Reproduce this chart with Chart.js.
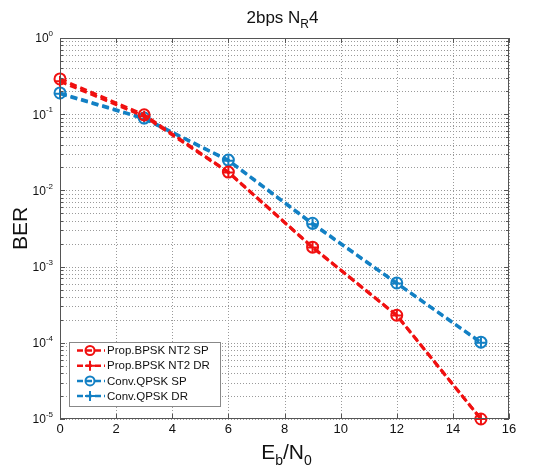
<!DOCTYPE html>
<html><head><meta charset="utf-8">
<script src="https://cdn.jsdelivr.net/npm/chart.js@4.4.0/dist/chart.umd.min.js"></script>
<style>html,body{margin:0;padding:0;background:#fff}#wrap{width:539px;height:472px}</style>
</head><body><div id="wrap"><canvas id="c" width="539" height="472"></canvas></div>
<script>
const ebn0 = [0, 3, 6, 9, 12, 15];
const propSP = [0.29, 0.098, 0.0174, 0.0018, 0.00023, 0.00001];
const propDR = [0.27, 0.094, 0.0172, 0.00178, 0.000228, 0.00001];
const convSP = [0.19, 0.089, 0.025, 0.0037, 0.00061, 0.000102];
const convDR = [0.185, 0.087, 0.0245, 0.0036, 0.0006, 0.0001];
const xTicks = [0, 2, 4, 6, 8, 10, 12, 14, 16];
const yExps = [0, -1, -2, -3, -4, -5];
const labels = ['Prop.BPSK NT2 SP', 'Prop.BPSK NT2 DR', 'Conv.QPSK SP', 'Conv.QPSK DR'];

const RED = '#f01010', BLUE = '#1380c4';
const FONT = '"Liberation Sans", Arial, sans-serif';
function mk(d, i, color, style) {
  return {
    label: labels[i], data: ebn0.map((x, k) => ({x, y: d[k]})),
    borderColor: color, backgroundColor: 'rgba(0,0,0,0)', borderWidth: 3,
    borderDash: [7, 4], pointStyle: style, pointRadius: 5.5, pointBorderWidth: 2,
    pointBorderColor: color, pointBackgroundColor: 'rgba(0,0,0,0)', tension: 0, clip: false
  };
}
const datasets = [mk(propSP, 0, RED, 'circle'), mk(propDR, 1, RED, 'cross'),
                  mk(convSP, 2, BLUE, 'circle'), mk(convDR, 3, BLUE, 'cross')];

const grid = {
  id: 'gridd',
  beforeDatasetsDraw(chart) {
    const ctx = chart.ctx, xs = chart.scales.x, ys = chart.scales.y, a = chart.chartArea;
    ctx.save();
    ctx.strokeStyle = '#9a9a9a'; ctx.lineWidth = 1; ctx.setLineDash([1, 2]);
    ctx.beginPath();
    xTicks.forEach(v => {
      const p = Math.round(xs.getPixelForValue(v)) + 0.5;
      ctx.moveTo(p, a.top); ctx.lineTo(p, a.bottom);
    });
    for (let e = -5; e <= 0; e++) {
      for (let m = 1; m <= 9; m++) {
        if (e === 0 && m > 1) break;
        const p = Math.round(ys.getPixelForValue(m * Math.pow(10, e))) + 0.5;
        ctx.moveTo(a.left, p); ctx.lineTo(a.right, p);
      }
    }
    ctx.stroke();
    ctx.restore();
  }
};

const deco = {
  id: 'deco',
  afterDraw(chart) {
    const ctx = chart.ctx, xs = chart.scales.x, ys = chart.scales.y, a = chart.chartArea;
    ctx.save();
    ctx.strokeStyle = '#555'; ctx.lineWidth = 1; ctx.setLineDash([]);
    ctx.strokeRect(a.left + 0.5, a.top + 0.5, a.right - a.left - 1, a.bottom - a.top - 1);
    ctx.beginPath();
    xTicks.forEach(v => {
      const p = Math.round(xs.getPixelForValue(v)) + 0.5;
      ctx.moveTo(p, a.bottom); ctx.lineTo(p, a.bottom - 5);
      ctx.moveTo(p, a.top); ctx.lineTo(p, a.top + 5);
    });
    for (let e = -5; e <= 0; e++) {
      for (let m = 1; m <= 9; m++) {
        if (e === 0 && m > 1) break;
        const p = Math.round(ys.getPixelForValue(m * Math.pow(10, e))) + 0.5;
        const L = m === 1 ? 5 : 3;
        ctx.moveTo(a.left, p); ctx.lineTo(a.left + L, p);
        ctx.moveTo(a.right, p); ctx.lineTo(a.right - L, p);
      }
    }
    ctx.stroke();
    ctx.fillStyle = '#111'; ctx.font = '13px ' + FONT; ctx.textAlign = 'center'; ctx.textBaseline = 'top';
    xTicks.forEach(v => ctx.fillText(String(v), xs.getPixelForValue(v), a.bottom + 4));
    yExps.forEach(e => {
      const p = ys.getPixelForValue(Math.pow(10, e));
      ctx.textAlign = 'right'; ctx.textBaseline = 'middle';
      const sup = String(e);
      ctx.font = '8px ' + FONT;
      const sw = ctx.measureText(sup).width;
      ctx.fillText(sup, a.left - 7, p - 4);
      ctx.font = '12px ' + FONT;
      ctx.fillText('10', a.left - 7 - sw, p + 1);
    });
    ctx.textBaseline = 'alphabetic'; ctx.textAlign = 'left';
    const t1 = '2bps N', t2 = 'R', t3 = '4';
    ctx.font = '17px ' + FONT; const w1 = ctx.measureText(t1).width;
    ctx.font = '12px ' + FONT; const w2 = ctx.measureText(t2).width;
    ctx.font = '17px ' + FONT; const w3 = ctx.measureText(t3).width;
    let tx = (a.left + a.right) / 2 - (w1 + w2 + w3) / 2 - 2;
    ctx.font = '17px ' + FONT; ctx.fillText(t1, tx, 23); tx += w1;
    ctx.font = '12px ' + FONT; ctx.fillText(t2, tx, 28); tx += w2;
    ctx.font = '17px ' + FONT; ctx.fillText(t3, tx, 23);
    const parts = [['E', 21, 0], ['b', 14, 6], ['/N', 21, 0], ['0', 14, 6]];
    let tw = 0; parts.forEach(p => { ctx.font = p[1] + 'px ' + FONT; tw += ctx.measureText(p[0]).width; });
    tx = (a.left + a.right) / 2 - tw / 2 + 2;
    parts.forEach(p => { ctx.font = p[1] + 'px ' + FONT; ctx.fillText(p[0], tx, 459 + p[2]); tx += ctx.measureText(p[0]).width; });
    ctx.save(); ctx.translate(27, (a.top + a.bottom) / 2); ctx.rotate(-Math.PI / 2);
    ctx.font = '21px ' + FONT; ctx.textAlign = 'center'; ctx.fillText('BER', 0, 0); ctx.restore();
    const lx = 69.5, ly = 342.5, lw = 151, lh = 64;
    ctx.fillStyle = '#fff'; ctx.fillRect(lx, ly, lw, lh);
    ctx.strokeStyle = '#888'; ctx.lineWidth = 1; ctx.strokeRect(lx, ly, lw, lh);
    chart.data.datasets.forEach((ds, i) => {
      const yy = 350.5 + i * 15.2;
      ctx.strokeStyle = ds.borderColor; ctx.lineWidth = 2.5; ctx.setLineDash([6, 3]);
      ctx.beginPath(); ctx.moveTo(77, yy); ctx.lineTo(105, yy); ctx.stroke();
      ctx.setLineDash([]); ctx.lineWidth = 2;
      ctx.beginPath();
      if (ds.pointStyle === 'circle') { ctx.arc(90, yy, 4.5, 0, Math.PI * 2); }
      else { ctx.moveTo(85, yy); ctx.lineTo(95, yy); ctx.moveTo(90, yy - 5); ctx.lineTo(90, yy + 5); }
      ctx.stroke();
      ctx.fillStyle = '#111'; ctx.font = '11.5px ' + FONT; ctx.textAlign = 'left'; ctx.textBaseline = 'middle';
      ctx.fillText(ds.label, 107, yy + 0.5);
    });
    ctx.restore();
  }
};

new Chart(document.getElementById('c'), {
  type: 'line',
  data: { datasets },
  options: {
    responsive: false, animation: false, devicePixelRatio: 1,
    layout: { padding: { left: 0, right: 30, top: 38, bottom: 0 } },
    plugins: { legend: { display: false }, title: { display: false }, tooltip: { enabled: false } },
    scales: {
      x: {
        type: 'linear', min: 0, max: 16,
        ticks: { stepSize: 2, display: false },
        grid: { display: false },
        border: { display: false },
        afterFit(s) { s.height = 53; }
      },
      y: {
        type: 'logarithmic', min: 1e-5, max: 1,
        ticks: { display: false },
        grid: { display: false },
        border: { display: false },
        afterFit(s) { s.width = 60; }
      }
    }
  },
  plugins: [grid, deco]
});
</script></body></html>
